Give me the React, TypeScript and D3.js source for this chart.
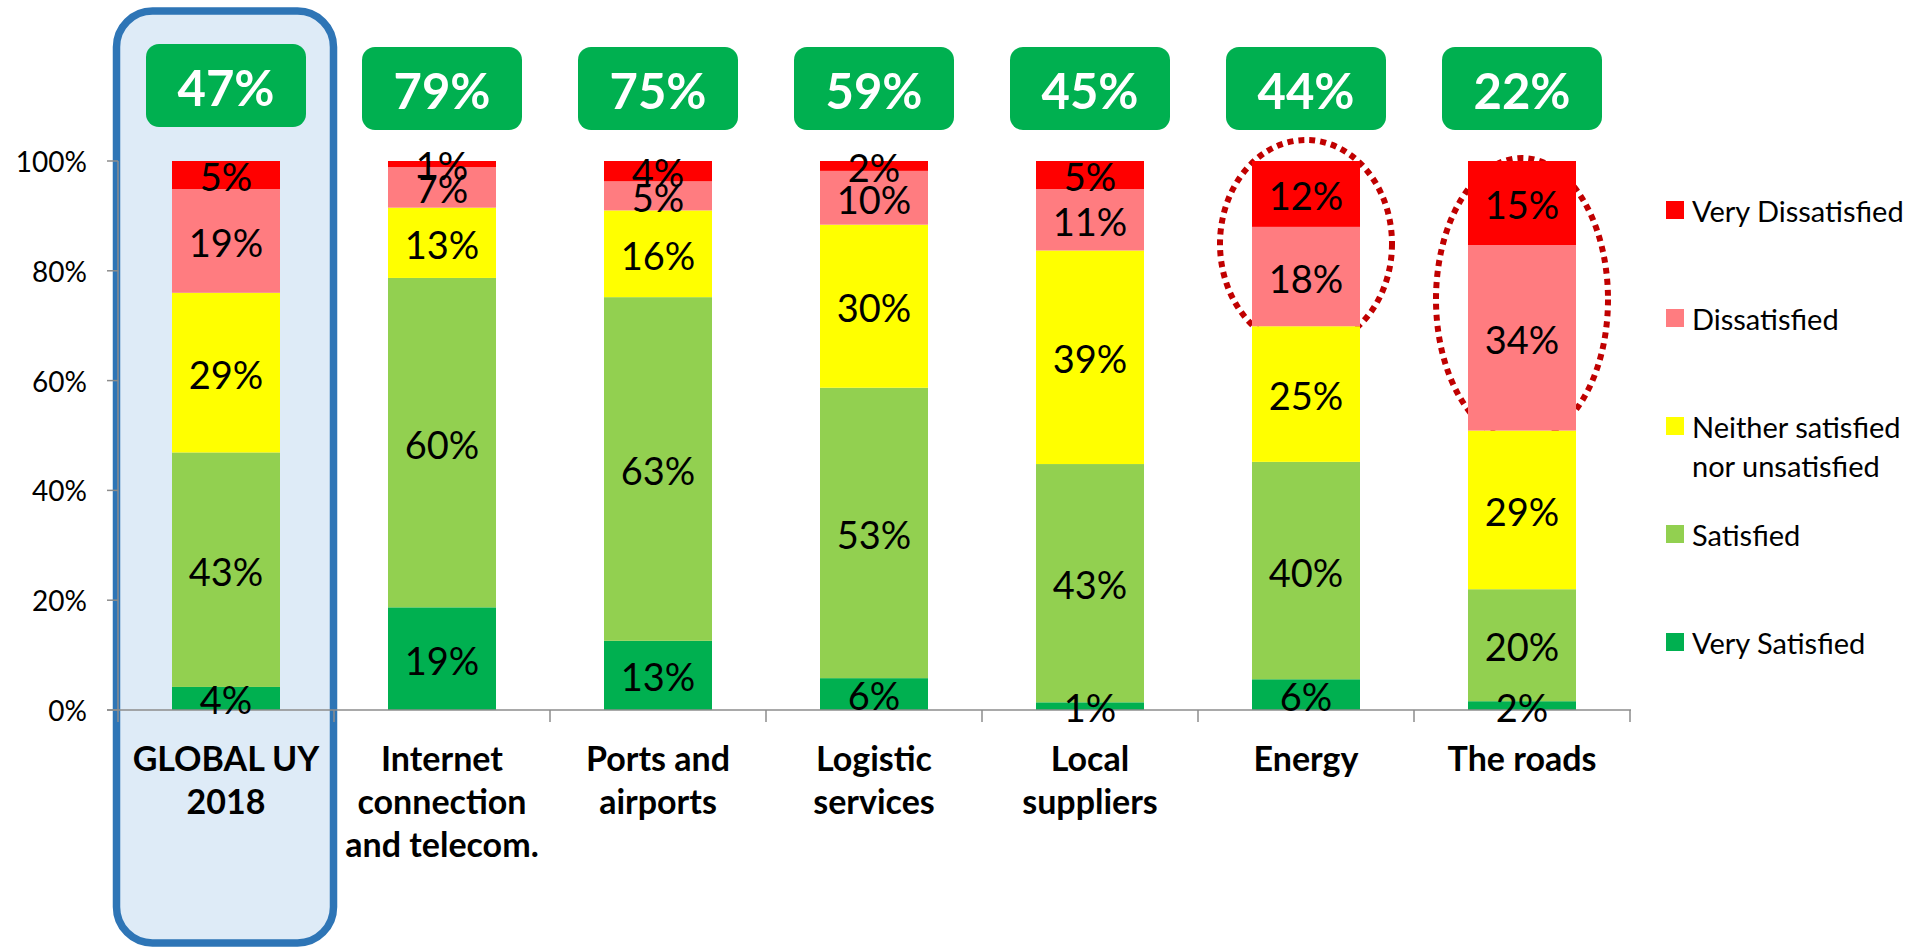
import React from "react";
import * as d3 from "d3";

const categories = ["GLOBAL UY 2018", "Internet connection and telecom.", "Ports and airports", "Logistic services", "Local suppliers", "Energy", "The roads"];
const categoryLines = [["GLOBAL UY", "2018"], ["Internet", "connection", "and telecom."], ["Ports and", "airports"], ["Logistic", "services"], ["Local", "suppliers"], ["Energy"], ["The roads"]];

const seriesKeys = ["Very Satisfied", "Satisfied", "Neither satisfied nor unsatisfied", "Dissatisfied", "Very Dissatisfied"];
const verySatisfied = [4.2, 18.7, 12.6, 5.8, 1.4, 5.6, 1.6];
const satisfied = [42.7, 60.0, 62.6, 52.9, 43.4, 39.6, 20.4];
const neither = [29.1, 12.8, 15.8, 29.7, 38.9, 24.7, 28.9];
const dissatisfied = [18.9, 7.4, 5.3, 9.8, 11.2, 18.1, 33.8];
const veryDissatisfied = [5.1, 1.1, 3.7, 1.8, 5.1, 12.0, 15.3];
const satisfactionTotals = [47, 79, 75, 59, 45, 44, 22];
const yTicks = [0, 0.2, 0.4, 0.6, 0.8, 1.0];
const highlighted = ["Energy", "The roads"];

const colors: Record<string, string> = {
  "Very Satisfied": "#00B050",
  "Satisfied": "#92D050",
  "Neither satisfied nor unsatisfied": "#FFFF00",
  "Dissatisfied": "#FF7C80",
  "Very Dissatisfied": "#FF0000",
};

const legendItems = [
  { key: "Very Dissatisfied", lines: ["Very Dissatisfied"] },
  { key: "Dissatisfied", lines: ["Dissatisfied"] },
  { key: "Neither satisfied nor unsatisfied", lines: ["Neither satisfied", "nor unsatisfied"] },
  { key: "Satisfied", lines: ["Satisfied"] },
  { key: "Very Satisfied", lines: ["Very Satisfied"] },
];

const FONT = "Lato, 'Open Sans', sans-serif";

export default function App() {
  const W = 1913, H = 947;
  const rows = categories.map((c, i) => ({
    cat: c,
    "Very Satisfied": verySatisfied[i] / 100,
    "Satisfied": satisfied[i] / 100,
    "Neither satisfied nor unsatisfied": neither[i] / 100,
    "Dissatisfied": dissatisfied[i] / 100,
    "Very Dissatisfied": veryDissatisfied[i] / 100,
  }));
  const stack = d3.stack<any>().keys(seriesKeys);
  const stacked = stack(rows);

  const x = d3.scaleBand<string>().domain(categories).range([118, 1630]).paddingInner(0.5).paddingOuter(0.25);
  const y = d3.scaleLinear().domain([0, 1]).range([710, 161]);
  const step = x.step();
  const bw = x.bandwidth();
  const fmt = (v: number) => Math.round(v * 100) + "%";
  const boundaries = d3.range(categories.length + 1).map((i) => 118 + i * step);

  const legendY = [210, 318, 426, 534, 642];

  return (
    <svg width={W} height={H} style={{ position: "absolute", left: 0, top: 0, background: "#fff" }}>
      {/* highlight frame for global */}
      <rect x={116.5} y={11} width={217} height={932} rx={36} ry={36} fill="#DEEBF7" stroke="#2E75B6" strokeWidth={7.5} />

      {/* dotted ellipses (behind bars) */}
      {highlighted.map((c) => {
        const cx = (x(c) as number) + bw / 2;
        const top = y(1) - (c === "Energy" ? 21 : 3);
        const bottomVal = c === "Energy" ? y(0.66) : y(0.49);
        const ry = (bottomVal - top) / 2;
        return (
          <ellipse key={c} cx={cx} cy={top + ry} rx={86} ry={ry} fill="none" stroke="#C00000" strokeWidth={6} strokeDasharray="6 5" />
        );
      })}

      {/* bars */}
      {stacked.map((s) => (
        <g key={s.key} fill={colors[s.key]}>
          {s.map((d, i) => (
            <rect key={i} x={x(categories[i])} y={y(d[1])} width={bw} height={y(d[0]) - y(d[1])} />
          ))}
        </g>
      ))}

      {/* axes */}
      <line x1={118} x2={118} y1={y(1)} y2={y(0)} stroke="#8C8C8C" strokeWidth={1.5} />
      {yTicks.map((t) => (
        <g key={t}>
          <line x1={107} x2={118} y1={y(t)} y2={y(t)} stroke="#8C8C8C" strokeWidth={1.5} />
          <text x={87} y={y(t)} textAnchor="end" dominantBaseline="central" fontFamily={FONT} fontSize={28} fill="#000">{Math.round(t * 100) + "%"}</text>
        </g>
      ))}
      <line x1={107} x2={1631} y1={y(0)} y2={y(0)} stroke="#8C8C8C" strokeWidth={1.5} />
      {boundaries.map((b, i) => (
        <line key={i} x1={b} x2={b} y1={y(0)} y2={y(0) + 12} stroke="#8C8C8C" strokeWidth={1.5} />
      ))}

      {/* segment labels */}
      {stacked.map((s) =>
        s.map((d, i) => (
          <text key={s.key + i} x={(x(categories[i]) as number) + bw / 2} y={(y(d[0]) + y(d[1])) / 2 + 1} textAnchor="middle" dominantBaseline="central" fontFamily={FONT} fontSize={38} fill="#000">
            {fmt(d[1] - d[0])}
          </text>
        ))
      )}

      {/* top satisfaction boxes */}
      {categories.map((c, i) => {
        const cx = (x(c) as number) + bw / 2;
        return (
          <g key={c}>
            <rect x={cx - 80} y={i === 0 ? 44 : 47} width={160} height={83} rx={13} fill="#00B050" />
            <text x={cx} y={(i === 0 ? 44 : 47) + 43} textAnchor="middle" dominantBaseline="central" fontFamily={FONT} fontWeight="bold" fontSize={49} fill="#fff">
              {satisfactionTotals[i] + "%"}
            </text>
          </g>
        );
      })}

      {/* category labels */}
      {categories.map((c, i) => (
        <text key={c} textAnchor="middle" fontFamily={FONT} fontWeight="bold" fontSize={34} fill="#000">
          {categoryLines[i].map((ln, j) => (
            <tspan key={j} x={(x(c) as number) + bw / 2} y={771 + j * 43}>{ln}</tspan>
          ))}
        </text>
      ))}

      {/* legend */}
      {legendItems.map((it, k) => (
        <g key={it.key}>
          <rect x={1666} y={legendY[k] - 9} width={18} height={18} fill={colors[it.key]} />
          {it.lines.map((ln, j) => (
            <text key={j} x={1692} y={legendY[k] + j * 39} dominantBaseline="central" fontFamily={FONT} fontSize={29} fill="#000">{ln}</text>
          ))}
        </g>
      ))}
    </svg>
  );
}
